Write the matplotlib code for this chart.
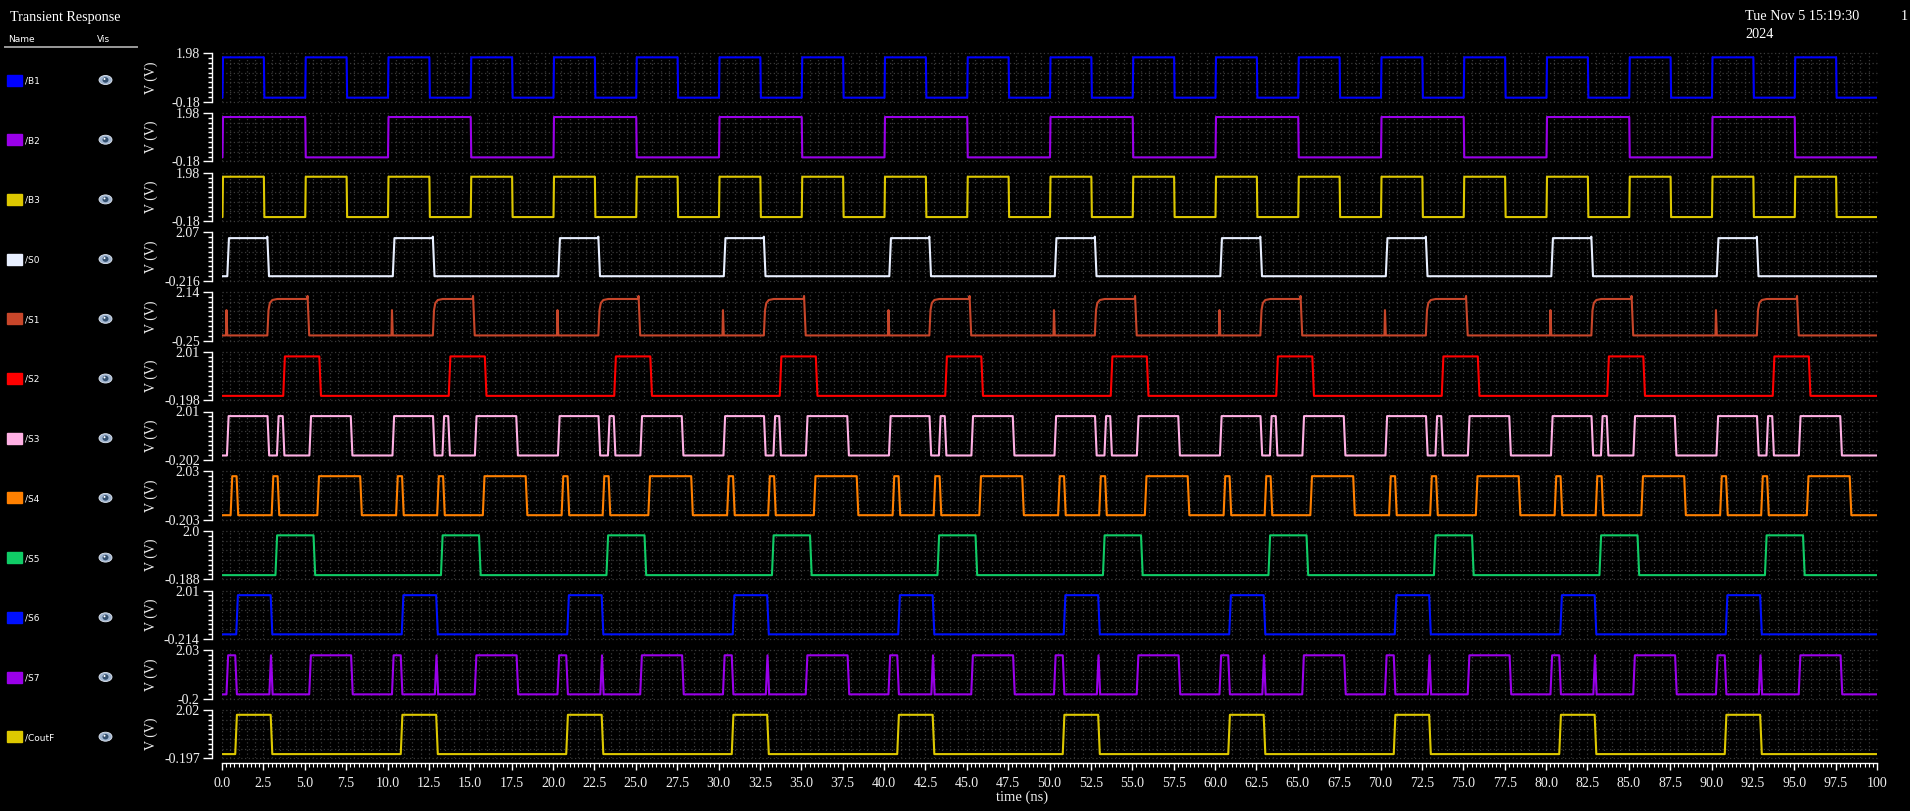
import matplotlib
matplotlib.use('Agg')
import matplotlib.pyplot as plt
from matplotlib.patches import Ellipse, Rectangle
from matplotlib.ticker import AutoMinorLocator, MultipleLocator
import numpy as np

plt.rcParams['font.family'] = ['Liberation Serif', 'DejaVu Serif']

# signal names, colours and the y range printed on each strip
names = ['/B1', '/B2', '/B3', '/S0', '/S1', '/S2', '/S3', '/S4', '/S5', '/S6', '/S7', '/CoutF']
colors = ['#0000ff', '#9a00ea', '#ddc800', '#e8efff', '#c8462a', '#ff0000',
          '#ffb0e4', '#ff8000', '#10cc66', '#0010ff', '#9a00ea', '#ddc800']
y_top = [1.98, 1.98, 1.98, 2.07, 2.14, 2.01, 2.01, 2.03, 2.0, 2.01, 2.03, 2.02]
y_bot = [-0.18, -0.18, -0.18, -0.216, -0.25, -0.198, -0.202, -0.203, -0.188, -0.214, -0.2, -0.197]

x_tick_labels = ['0.0', '2.5', '5.0', '7.5', '10.0', '12.5', '15.0', '17.5', '20.0', '22.5',
                 '25.0', '27.5', '30.0', '32.5', '35.0', '37.5', '40.0', '42.5', '45.0', '47.5',
                 '50.0', '52.5', '55.0', '57.5', '60.0', '62.5', '65.0', '67.5', '70.0', '72.5',
                 '75.0', '77.5', '80.0', '82.5', '85.0', '87.5', '90.0', '92.5', '95.0', '97.5', '100']

# (rise, fall) times in ns of every high pulse
B1 = [(0.03, 2.53), (5.03, 7.53), (10.03, 12.53), (15.03, 17.53), (20.03, 22.53),
      (25.03, 27.53), (30.03, 32.53), (35.03, 37.53), (40.03, 42.53), (45.03, 47.53),
      (50.03, 52.53), (55.03, 57.53), (60.03, 62.53), (65.03, 67.53), (70.03, 72.53),
      (75.03, 77.53), (80.03, 82.53), (85.03, 87.53), (90.03, 92.53), (95.03, 97.53)]
B2 = [(0.03, 5.03), (10.03, 15.03), (20.03, 25.03), (30.03, 35.03), (40.03, 45.03),
      (50.03, 55.03), (60.03, 65.03), (70.03, 75.03), (80.03, 85.03), (90.03, 95.03)]
B3 = [(0.03, 2.53), (5.03, 7.53), (10.03, 12.53), (15.03, 17.53), (20.03, 22.53),
      (25.03, 27.53), (30.03, 32.53), (35.03, 37.53), (40.03, 42.53), (45.03, 47.53),
      (50.03, 52.53), (55.03, 57.53), (60.03, 62.53), (65.03, 67.53), (70.03, 72.53),
      (75.03, 77.53), (80.03, 82.53), (85.03, 87.53), (90.03, 92.53), (95.03, 97.53)]
S0 = [(0.32, 2.74), (10.32, 12.74), (20.32, 22.74), (30.32, 32.74), (40.32, 42.74),
      (50.32, 52.74), (60.32, 62.74), (70.32, 72.74), (80.32, 82.74), (90.32, 92.74)]
S1 = [(2.74, 5.17), (12.74, 15.17), (22.74, 25.17), (32.74, 35.17), (42.74, 45.17),
      (52.74, 55.17), (62.74, 65.17), (72.74, 75.17), (82.74, 85.17), (92.74, 95.17)]
S1_glitches = [0.27, 10.27, 20.27, 30.27, 40.27, 50.27, 60.27, 70.27, 80.27, 90.27]
S2 = [(3.70, 5.88), (13.70, 15.88), (23.70, 25.88), (33.70, 35.88), (43.70, 45.88),
      (53.70, 55.88), (63.70, 65.88), (73.70, 75.88), (83.70, 85.88), (93.70, 95.88)]
S3 = [(0.30, 2.75), (3.32, 3.67), (5.28, 7.78), (10.30, 12.75), (13.32, 13.67), (15.28, 17.78),
      (20.30, 22.75), (23.32, 23.67), (25.28, 27.78), (30.30, 32.75), (33.32, 33.67), (35.28, 37.78),
      (40.30, 42.75), (43.32, 43.67), (45.28, 47.78), (50.30, 52.75), (53.32, 53.67), (55.28, 57.78),
      (60.30, 62.75), (63.32, 63.67), (65.28, 67.78), (70.30, 72.75), (73.32, 73.67), (75.28, 77.78),
      (80.30, 82.75), (83.32, 83.67), (85.28, 87.78), (90.30, 92.75), (93.32, 93.67), (95.28, 97.78)]
S4 = [(0.52, 0.88), (3.00, 3.36), (5.76, 8.35), (10.52, 10.88), (13.00, 13.36), (15.76, 18.35),
      (20.52, 20.88), (23.00, 23.36), (25.76, 28.35), (30.52, 30.88), (33.00, 33.36), (35.76, 38.35),
      (40.52, 40.88), (43.00, 43.36), (45.76, 48.35), (50.52, 50.88), (53.00, 53.36), (55.76, 58.35),
      (60.52, 60.88), (63.00, 63.36), (65.76, 68.35), (70.52, 70.88), (73.00, 73.36), (75.76, 78.35),
      (80.52, 80.88), (83.00, 83.36), (85.76, 88.35), (90.52, 90.88), (93.00, 93.36), (95.76, 98.35)]
S5 = [(3.23, 5.53), (13.23, 15.53), (23.23, 25.53), (33.23, 35.53), (43.23, 45.53),
      (53.23, 55.53), (63.23, 65.53), (73.23, 75.53), (83.23, 85.53), (93.23, 95.53)]
S6 = [(0.86, 2.94), (10.86, 12.94), (20.86, 22.94), (30.86, 32.94), (40.86, 42.94),
      (50.86, 52.94), (60.86, 62.94), (70.86, 72.94), (80.86, 82.94), (90.86, 92.94)]
S7 = [(0.27, 0.80), (2.86, 2.96), (5.27, 7.80), (10.27, 10.80), (12.86, 12.96), (15.27, 17.80),
      (20.27, 20.80), (22.86, 22.96), (25.27, 27.80), (30.27, 30.80), (32.86, 32.96), (35.27, 37.80),
      (40.27, 40.80), (42.86, 42.96), (45.27, 47.80), (50.27, 50.80), (52.86, 52.96), (55.27, 57.80),
      (60.27, 60.80), (62.86, 62.96), (65.27, 67.80), (70.27, 70.80), (72.86, 72.96), (75.27, 77.80),
      (80.27, 80.80), (82.86, 82.96), (85.27, 87.80), (90.27, 90.80), (92.86, 92.96), (95.27, 97.80)]
CoutF = [(0.80, 2.94), (10.80, 12.94), (20.80, 22.94), (30.80, 32.94), (40.80, 42.94),
         (50.80, 52.94), (60.80, 62.94), (70.80, 72.94), (80.80, 82.94), (90.80, 92.94)]

HIGH = 1.8
S1_glitch_peak = 1.25


def wave(pulses, tr=0.1, kick=0.0, soft=False, glitches=(), glitch_peak=1.25):
    segs = []
    for r, f in pulses:
        if soft:
            pts = [(r, 0), (r + 0.07, 1.25), (r + 0.15, 1.6), (r + 0.3, 1.75), (r + 0.6, HIGH)]
        else:
            pts = [(r, 0), (r + tr, HIGH)]
        if kick:
            pts += [(f - 0.03, HIGH), (f, HIGH + kick), (f + tr, 0)]
        else:
            pts += [(f, HIGH), (f + tr, 0)]
        segs.append(pts)
    for g in glitches:
        segs.append([(g - 0.03, 0), (g, glitch_peak), (g + 0.05, 0)])
    segs.sort(key=lambda p: p[0][0])
    t, v = [0.0], [0.0]
    for pts in segs:
        for a, b in pts:
            t.append(a)
            v.append(b)
    t.append(100.0)
    v.append(0.0)
    return t, v


traces = [wave(B1, tr=0.03), wave(B2, tr=0.03), wave(B3, tr=0.03),
          wave(S0, kick=0.07), wave(S1, soft=True, kick=0.15, glitches=S1_glitches, glitch_peak=S1_glitch_peak),
          wave(S2), wave(S3), wave(S4), wave(S5), wave(S6), wave(S7), wave(CoutF)]

W, H = 1910, 811
left_px, right_px = 222, 1877
top0, pitch, ph = 53.3, 59.7, 48.4

fig = plt.figure(figsize=(W / 100, H / 100), dpi=100, facecolor='black')

for i, (t, v) in enumerate(traces):
    top = top0 + pitch * i
    ax = fig.add_axes([left_px / W, 1 - (top + ph) / H, (right_px - left_px) / W, ph / H])
    ax.set_facecolor('black')
    lo, hi = y_bot[i], y_top[i]

    # dotted grid
    ax.vlines(np.arange(0, 100.01, 0.5), lo, hi, colors='#3a3a3a', linestyles=(0, (1, 2)), lw=0.9, zorder=1)
    ax.hlines(np.linspace(lo, hi, 6), 0, 100, colors='#3a3a3a', linestyles=(0, (1, 2)), lw=0.9, zorder=1, clip_on=False)

    ax.plot(t, v, color=colors[i], lw=1.5, zorder=3)
    ax.set_xlim(0, 100)
    ax.set_ylim(lo, hi)

    ax.set_yticks([lo, hi], [str(lo), str(hi)])
    ax.yaxis.set_minor_locator(AutoMinorLocator(10))
    ax.tick_params(axis='y', which='major', direction='out', length=6.5, width=1.0,
                   color='white', labelcolor='#f0f0f0', labelsize=10, pad=2.5)
    ax.tick_params(axis='y', which='minor', direction='out', length=3, width=1.0, color='white')
    ax.spines['left'].set_position(('outward', 7))
    ax.spines['left'].set_color('white')
    ax.spines['left'].set_linewidth(1.0)
    for s in ['top', 'right']:
        ax.spines[s].set_visible(False)

    if i == len(traces) - 1:
        ax.set_xticks([float(s) for s in x_tick_labels], x_tick_labels)
        ax.xaxis.set_minor_locator(MultipleLocator(0.25))
        ax.tick_params(axis='x', which='major', direction='out', length=5, width=1.0,
                       color='white', labelcolor='#f0f0f0', labelsize=10, pad=5.5)
        ax.tick_params(axis='x', which='minor', direction='out', length=3, width=0.8, color='white')
        ax.spines['bottom'].set_position(('outward', 3))
        ax.spines['bottom'].set_color('white')
        ax.spines['bottom'].set_linewidth(1.0)
    else:
        ax.spines['bottom'].set_visible(False)
        ax.tick_params(axis='x', which='both', length=0, labelbottom=False)

# overlay in pixel coordinates for the browser column and header texts
lax = fig.add_axes([0, 0, 1, 1])
lax.set_xlim(0, W)
lax.set_ylim(H, 0)
lax.axis('off')
lax.patch.set_alpha(0)

lax.text(10, 17, 'Transient Response', color='white', fontsize=10.2, va='center', ha='left')
lax.text(1745, 17, 'Tue Nov 5 15:19:30', color='white', fontsize=10.3, va='center', ha='left')
lax.text(1745, 34, '2024', color='white', fontsize=10.3, va='center', ha='left')
lax.text(1901, 17, '1', color='white', fontsize=10.3, va='center', ha='left')
lax.text(8, 39, 'Name', color='white', fontsize=6.5, family='DejaVu Sans', va='center')
lax.text(97, 39, 'Vis', color='white', fontsize=6.5, family='DejaVu Sans', va='center')
lax.plot([5, 137], [47, 47], color='#9a9a9a', lw=1.4)

for i, name in enumerate(names):
    yc = 80 + pitch * i
    lax.add_patch(Rectangle((7, yc - 5.5), 15, 11, color=colors[i]))
    lax.text(25, yc + 1, name, color='white', fontsize=6.5, family='DejaVu Sans', va='center')
    lax.add_patch(Ellipse((105.5, yc), 13, 9, fc='#9fb4cf', ec='#dfe7f2', lw=0.6))
    lax.add_patch(Ellipse((105.5, yc), 6, 5.5, fc='#34506f', ec='none'))
    lax.add_patch(Ellipse((104.5, yc - 1), 2, 2, fc='white', ec='none'))
    lax.text(151, top0 + pitch * i + ph / 2, 'V (V)', color='#f0f0f0', fontsize=10,
             rotation=90, ha='center', va='center')

lax.text(1022, 797, 'time (ns)', color='#f0f0f0', fontsize=10.5, ha='center', va='center')

fig.savefig('out.png', dpi=100, facecolor='black')
